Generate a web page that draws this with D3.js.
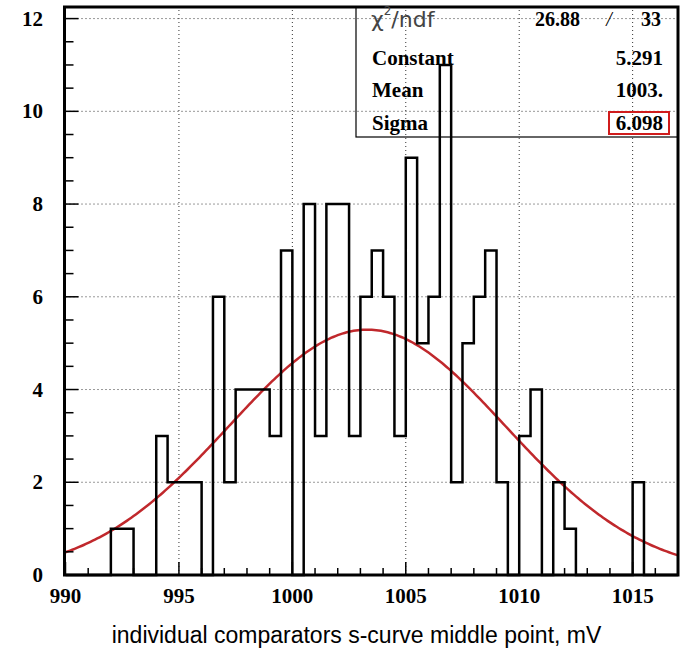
<!DOCTYPE html>
<html>
<head>
<meta charset="utf-8">
<script src="https://cdn.jsdelivr.net/npm/d3@7"></script>
<style>
  html, body { margin: 0; padding: 0; background: #fff; }
  svg { display: block; }
</style>
</head>
<body>
<svg id="canvas" width="683" height="648"></svg>
<script>
// histogram: bins of 0.5 mV starting at 990
const binStart = 990;
const binWidth = 0.5;
const counts = [
  0, 0, 0, 0, 1, 1, 0, 0, 3, 2,
  2, 2, 0, 6, 2, 4, 4, 4, 3, 7,
  0, 8, 3, 8, 8, 3, 6, 7, 6, 3,
  9, 5, 6, 11, 2, 5, 6, 7, 2, 0,
  3, 4, 0, 2, 1, 0, 0, 0, 0, 0,
  2, 0, 0, 0
];

// gaussian fit
const fitConstant = 5.291;
const fitMean = 1003.3;
const fitSigma = 6.098;

const xTicks = [990, 995, 1000, 1005, 1010, 1015];
const yTicks = [0, 2, 4, 6, 8, 10, 12];

const statLabels = ["Constant", "Mean", "Sigma"];
const statValues = ["5.291", "1003.", "6.098"];
const chi2 = "26.88";
const ndf = "33";

const xTitle = "individual comparators s-curve middle point, mV";

const svg = d3.select("#canvas");

const padL = 65.5, padR = 678, padT = 7, padB = 575;

const x = d3.scaleLinear().domain([990, 1017]).range([padL, padR]);
const y = d3.scaleLinear().domain([0, 12.25]).range([padB, padT]);

const serif = "'Liberation Serif', 'Times New Roman', serif";

// dotted grid
const grid = svg.append("g")
    .attr("stroke", "#333")
    .attr("stroke-width", 1)
    .attr("stroke-dasharray", "1,3");

xTicks.filter(t => t > 990).forEach(t => {
    grid.append("line")
        .attr("x1", x(t)).attr("x2", x(t))
        .attr("y1", padB).attr("y2", padT);
});
yTicks.filter(t => t > 0).forEach(t => {
    grid.append("line")
        .attr("x1", padL).attr("x2", padR)
        .attr("y1", y(t)).attr("y2", y(t));
});

// gaussian curve
const gauss = v => fitConstant * Math.exp(-0.5 * Math.pow((v - fitMean) / fitSigma, 2));
const curvePts = d3.range(990, 1017.001, 0.1).map(v => [v, gauss(v)]);

svg.append("path")
    .datum(curvePts)
    .attr("fill", "none")
    .attr("stroke", "#c0282c")
    .attr("stroke-width", 2.5)
    .attr("d", d3.line().x(d => x(d[0])).y(d => y(d[1])));

// histogram outline
const histPts = counts.map((c, i) => [binStart + i * binWidth, c]);
histPts.push([binStart + counts.length * binWidth, 0]);

svg.append("path")
    .datum(histPts)
    .attr("fill", "none")
    .attr("stroke", "#000")
    .attr("stroke-width", 2.5)
    .attr("d", d3.line().curve(d3.curveStepAfter).x(d => x(d[0])).y(d => y(d[1])));

// ticks (inside)
const tickG = svg.append("g").attr("stroke", "#000").attr("stroke-width", 1.5);
d3.range(990, 1017.001, 1).forEach(v => {
    const major = v % 5 === 0;
    tickG.append("line")
        .attr("x1", x(v)).attr("x2", x(v))
        .attr("y1", padB).attr("y2", padB - (major ? 13 : 7));
});
d3.range(0, 12.001, 0.5).forEach(v => {
    const major = v % 2 === 0;
    tickG.append("line")
        .attr("x1", padL).attr("x2", padL + (major ? 13 : 8))
        .attr("y1", y(v)).attr("y2", y(v));
});

// frame
svg.append("rect")
    .attr("x", padL - 1).attr("y", padT)
    .attr("width", padR - padL + 1).attr("height", padB - padT)
    .attr("fill", "none")
    .attr("stroke", "#000")
    .attr("stroke-width", 3);

// tick labels
svg.append("g").selectAll("text")
    .data(xTicks)
    .join("text")
    .attr("x", d => x(d))
    .attr("y", 596)
    .attr("text-anchor", "middle")
    .attr("dominant-baseline", "central")
    .attr("font-family", serif)
    .attr("font-weight", "bold")
    .attr("font-size", 21)
    .text(d => d);

svg.append("g").selectAll("text")
    .data(yTicks)
    .join("text")
    .attr("x", 43)
    .attr("y", d => y(d))
    .attr("text-anchor", "end")
    .attr("dominant-baseline", "central")
    .attr("font-family", serif)
    .attr("font-weight", "bold")
    .attr("font-size", 21)
    .text(d => d);

// axis title
svg.append("text")
    .attr("x", (108 + 605) / 2)
    .attr("y", 635)
    .attr("text-anchor", "middle")
    .attr("dominant-baseline", "central")
    .attr("font-family", "'Liberation Sans', Arial, sans-serif")
    .attr("font-size", 23)
    .text(xTitle);

// stats box
const boxL = 356, boxB = 137;
svg.append("rect")
    .attr("x", boxL).attr("y", padT)
    .attr("width", padR - boxL).attr("height", boxB - padT)
    .attr("fill", "none")
    .attr("stroke", "#000")
    .attr("stroke-width", 1.2);

const chiRow = svg.append("text")
    .attr("x", 371).attr("y", 19)
    .attr("dominant-baseline", "central")
    .attr("font-family", "'DejaVu Sans', sans-serif")
    .attr("font-size", 22)
    .attr("fill", "#444");
chiRow.append("tspan").text("\u03C7");
chiRow.append("tspan").attr("font-size", 12).attr("dy", -8).text("2");
chiRow.append("tspan").attr("dy", 8).text("/ndf");

svg.append("text")
    .attr("x", 580).attr("y", 19)
    .attr("text-anchor", "end")
    .attr("dominant-baseline", "central")
    .attr("font-family", serif).attr("font-weight", "bold").attr("font-size", 20)
    .text(chi2);
svg.append("text")
    .attr("x", 609).attr("y", 19)
    .attr("text-anchor", "middle")
    .attr("dominant-baseline", "central")
    .attr("font-family", serif).attr("font-style", "italic").attr("font-size", 20)
    .text("/");
svg.append("text")
    .attr("x", 661).attr("y", 19)
    .attr("text-anchor", "end")
    .attr("dominant-baseline", "central")
    .attr("font-family", serif).attr("font-weight", "bold").attr("font-size", 20)
    .text(ndf);

const rowY = [58, 90, 123];
statLabels.forEach((lab, i) => {
    svg.append("text")
        .attr("x", 372).attr("y", rowY[i])
        .attr("dominant-baseline", "central")
        .attr("font-family", serif).attr("font-weight", "bold").attr("font-size", 21)
        .text(lab);
    svg.append("text")
        .attr("x", 663).attr("y", rowY[i])
        .attr("text-anchor", "end")
        .attr("dominant-baseline", "central")
        .attr("font-family", serif).attr("font-weight", "bold").attr("font-size", 21)
        .text(statValues[i]);
});

// red box around sigma value
svg.append("rect")
    .attr("x", 609).attr("y", 112)
    .attr("width", 60).attr("height", 22)
    .attr("fill", "none")
    .attr("stroke", "#d01c1c")
    .attr("stroke-width", 2);
</script>
</body>
</html>
